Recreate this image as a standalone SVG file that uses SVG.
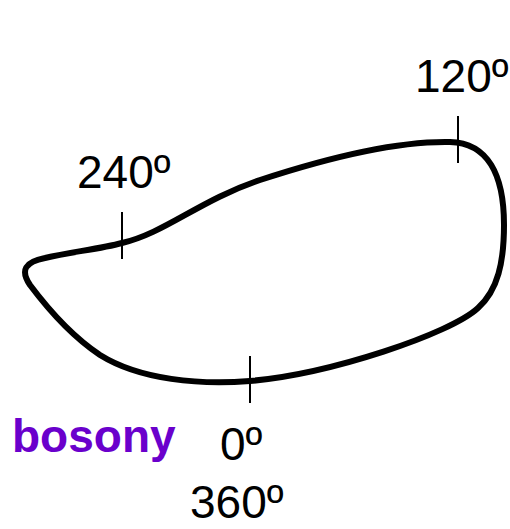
<svg xmlns="http://www.w3.org/2000/svg" width="510" height="529" viewBox="0 0 510 529">
<style>
.lbl{font-family:"Liberation Sans",Arial,sans-serif;font-size:46px;fill:#000}
.tick{stroke:#000;stroke-width:2;fill:none}
</style>
<rect width="510" height="529" fill="#fff"/>
<g id="loop">
<path d="M 122 243 C 165 233, 200 200, 260 180 C 330 157, 400 141, 450 142 C 488 143, 504 175, 504 225 C 504 262, 498 290, 478 308 C 450 334, 330 374, 250 381 C 200 385, 140 380, 100 355 C 70 335, 45 305, 30 285 C 20 270, 25 262, 45 258 C 70 252, 100 249, 122 243 Z" fill="none" stroke="#000" stroke-width="6"/>
</g>
<g id="ticks">
<line class="tick" x1="122" y1="212" x2="122" y2="259"/>
<line class="tick" x1="458" y1="116" x2="458" y2="163"/>
<line class="tick" x1="250" y1="356" x2="250" y2="403"/>
</g>
<g id="labels">
<text class="lbl" x="415" y="92">120º</text>
<text class="lbl" x="77" y="188">240º</text>
<text class="lbl" x="220" y="460">0º</text>
<text class="lbl" x="190" y="518">360º</text>
<text x="12" y="452" style="font-family:'Liberation Sans',Arial,sans-serif;font-size:46px;font-weight:bold;fill:#6a00cc">bosony</text>
</g>
</svg>
